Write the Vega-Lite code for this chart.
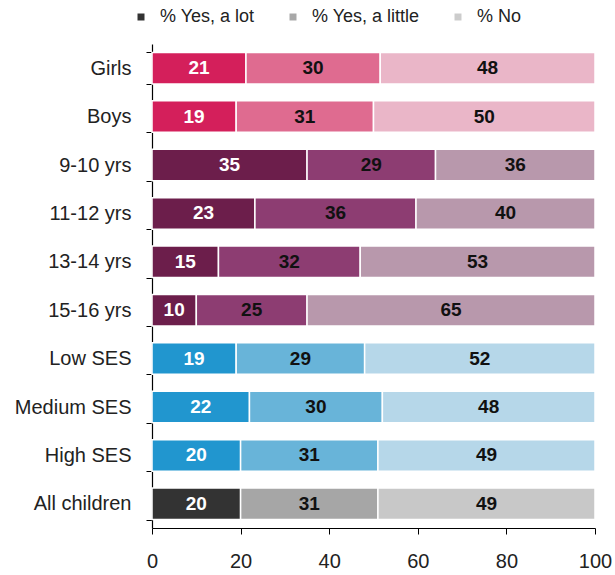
{
  "$schema": "https://vega.github.io/schema/vega-lite/v6.json",
  "width": 443,
  "height": 484,
  "autosize": {"type": "none"},
  "padding": {"left": 152, "top": 44, "right": 20, "bottom": 47},
  "config": {"font": "Liberation Sans", "view": {"stroke": null}},
  "data": {
    "values": [
      {"group": "Girls", "response": "% Yes, a lot", "ord": 1, "segment": "gender_lot", "value": 21},
      {"group": "Girls", "response": "% Yes, a little", "ord": 2, "segment": "gender_little", "value": 30},
      {"group": "Girls", "response": "% No", "ord": 3, "segment": "gender_no", "value": 48},
      {"group": "Boys", "response": "% Yes, a lot", "ord": 1, "segment": "gender_lot", "value": 19},
      {"group": "Boys", "response": "% Yes, a little", "ord": 2, "segment": "gender_little", "value": 31},
      {"group": "Boys", "response": "% No", "ord": 3, "segment": "gender_no", "value": 50},
      {"group": "9-10 yrs", "response": "% Yes, a lot", "ord": 1, "segment": "age_lot", "value": 35},
      {"group": "9-10 yrs", "response": "% Yes, a little", "ord": 2, "segment": "age_little", "value": 29},
      {"group": "9-10 yrs", "response": "% No", "ord": 3, "segment": "age_no", "value": 36},
      {"group": "11-12 yrs", "response": "% Yes, a lot", "ord": 1, "segment": "age_lot", "value": 23},
      {"group": "11-12 yrs", "response": "% Yes, a little", "ord": 2, "segment": "age_little", "value": 36},
      {"group": "11-12 yrs", "response": "% No", "ord": 3, "segment": "age_no", "value": 40},
      {"group": "13-14 yrs", "response": "% Yes, a lot", "ord": 1, "segment": "age_lot", "value": 15},
      {"group": "13-14 yrs", "response": "% Yes, a little", "ord": 2, "segment": "age_little", "value": 32},
      {"group": "13-14 yrs", "response": "% No", "ord": 3, "segment": "age_no", "value": 53},
      {"group": "15-16 yrs", "response": "% Yes, a lot", "ord": 1, "segment": "age_lot", "value": 10},
      {"group": "15-16 yrs", "response": "% Yes, a little", "ord": 2, "segment": "age_little", "value": 25},
      {"group": "15-16 yrs", "response": "% No", "ord": 3, "segment": "age_no", "value": 65},
      {"group": "Low SES", "response": "% Yes, a lot", "ord": 1, "segment": "ses_lot", "value": 19},
      {"group": "Low SES", "response": "% Yes, a little", "ord": 2, "segment": "ses_little", "value": 29},
      {"group": "Low SES", "response": "% No", "ord": 3, "segment": "ses_no", "value": 52},
      {"group": "Medium SES", "response": "% Yes, a lot", "ord": 1, "segment": "ses_lot", "value": 22},
      {"group": "Medium SES", "response": "% Yes, a little", "ord": 2, "segment": "ses_little", "value": 30},
      {"group": "Medium SES", "response": "% No", "ord": 3, "segment": "ses_no", "value": 48},
      {"group": "High SES", "response": "% Yes, a lot", "ord": 1, "segment": "ses_lot", "value": 20},
      {"group": "High SES", "response": "% Yes, a little", "ord": 2, "segment": "ses_little", "value": 31},
      {"group": "High SES", "response": "% No", "ord": 3, "segment": "ses_no", "value": 49},
      {"group": "All children", "response": "% Yes, a lot", "ord": 1, "segment": "all_lot", "value": 20},
      {"group": "All children", "response": "% Yes, a little", "ord": 2, "segment": "all_little", "value": 31},
      {"group": "All children", "response": "% No", "ord": 3, "segment": "all_no", "value": 49}
    ]
  },
  "transform": [
    {"stack": "value", "groupby": ["group"], "sort": [{"field": "ord", "order": "ascending"}], "offset": "normalize", "as": ["x0", "x1"]},
    {"calculate": "(datum.x0 + datum.x1) / 2", "as": "xm"}
  ],
  "encoding": {
    "y": {
      "field": "group",
      "type": "nominal",
      "sort": ["Girls", "Boys", "9-10 yrs", "11-12 yrs", "13-14 yrs", "15-16 yrs", "Low SES", "Medium SES", "High SES", "All children"],
      "scale": {"paddingInner": 0.35, "paddingOuter": 0.175},
      "axis": {
        "title": null,
        "labelFontSize": 20,
        "labelColor": "#222222",
        "labelPadding": 15,
        "labelLimit": 300,
        "tickSize": 6,
        "tickBand": "extent",
        "tickColor": "#000000",
        "domainColor": "#000000",
        "domainWidth": 1.2
      }
    }
  },
  "layer": [
    {
      "mark": {"type": "bar", "opacity": 0},
      "encoding": {
        "x": {
          "field": "x0",
          "type": "quantitative",
          "scale": {"domain": [0, 1], "nice": false},
          "axis": {
            "title": null,
            "values": [0, 0.2, 0.4, 0.6, 0.8, 1],
            "labelExpr": "format(datum.value * 100, 'd')",
            "grid": false,
            "labelFontSize": 20,
            "labelColor": "#222222",
            "labelFlush": false,
            "labelPadding": 17,
            "tickSize": 6,
            "tickColor": "#000000",
            "domainColor": "#000000",
            "domainWidth": 1.2
          }
        },
        "x2": {"field": "x1"},
        "color": {
          "field": "response",
          "type": "nominal",
          "scale": {"domain": ["% Yes, a lot", "% Yes, a little", "% No"], "range": ["#333333", "#a8a8a8", "#cccccc"]},
          "legend": {
            "orient": "none",
            "legendX": -20,
            "legendY": -36,
            "direction": "horizontal",
            "title": null,
            "symbolType": "square",
            "symbolSize": 49,
            "symbolOpacity": 1,
            "symbolStrokeWidth": 0,
            "labelFontSize": 18,
            "labelColor": "#222222",
            "labelOffset": 10,
            "columnPadding": 29
          }
        }
      }
    },
    {
      "mark": {"type": "bar", "stroke": "white", "strokeWidth": 1.5},
      "encoding": {
        "x": {"field": "x0", "type": "quantitative"},
        "x2": {"field": "x1"},
        "color": {
          "field": "segment",
          "type": "nominal",
          "scale": {
            "domain": ["gender_lot", "gender_little", "gender_no", "age_lot", "age_little", "age_no", "ses_lot", "ses_little", "ses_no", "all_lot", "all_little", "all_no"],
            "range": ["#d41f5b", "#df6b90", "#eab6c8", "#6c1e4b", "#8d3d72", "#b898ac", "#2196cf", "#68b4d9", "#b6d7e9", "#333333", "#a6a6a6", "#c8c8c8"]
          },
          "legend": null
        }
      }
    },
    {
      "mark": {"type": "text", "fontWeight": "bold", "fontSize": 19},
      "encoding": {
        "x": {"field": "xm", "type": "quantitative"},
        "text": {"field": "value", "type": "quantitative"},
        "color": {"condition": {"test": "datum.ord == 1", "value": "#ffffff"}, "value": "#111111"}
      }
    }
  ],
  "resolve": {"scale": {"color": "independent"}}
}
